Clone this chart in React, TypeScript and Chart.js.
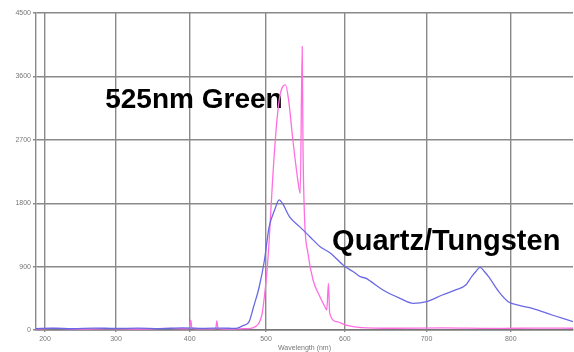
import { useEffect, useRef } from 'react';
import { Chart, LinearScale, registerables } from 'chart.js';

// ---- data ----
const quartzNm = [187, 210, 240, 270, 300, 330, 360, 390, 420, 445, 458, 465, 471, 478, 484, 491, 498, 504, 511, 517, 521, 530, 543, 556, 569, 582, 599, 610, 619, 623, 627, 632, 647, 668, 684, 700, 719, 735, 747, 754, 759, 764, 769, 774, 786, 797, 810, 825, 848, 872];
const quartzVal = [20, 25, 18, 28, 22, 26, 20, 30, 24, 28, 22, 35, 65, 115, 330, 600, 990, 1460, 1700, 1846, 1800, 1610, 1467, 1325, 1183, 1090, 909, 830, 757, 745, 730, 690, 568, 450, 379, 402, 497, 570, 639, 757, 830, 890, 830, 757, 544, 402, 350, 308, 213, 118];

const greenNm = [187, 215, 250, 290, 330, 370, 398, 400, 401.5, 403, 420, 434.5, 436, 437.5, 455, 470, 480, 486, 491, 495, 498, 501, 504, 508.5, 513, 517, 521.4, 525, 529, 534, 540.7, 543.8, 546.3, 547.3, 549.4, 553.6, 560, 568.7, 575, 577.3, 579.4, 581, 590, 601, 620, 660, 720, 780, 830, 872];
const greenVal = [15, 22, 12, 20, 14, 22, 18, 40, 140, 25, 15, 20, 130, 20, 14, 18, 22, 45, 100, 230, 480, 800, 1250, 2130, 2840, 3266, 3455, 3480, 3266, 2745, 2130, 1940, 4023, 2600, 1560, 1090, 710, 473, 330, 284, 663, 237, 118, 70, 35, 25, 30, 22, 28, 25];

const xTicks = [200, 300, 400, 500, 600, 700, 800];
const yTicks = [0, 900, 1800, 2700, 3600, 4500];

const labelTexts = ['525nm Green', 'Quartz/Tungsten'];
const labelNm = [285, 584];
const labelVal = [3147, 1136];

// spectrometer-like slightly non-linear wavelength axis
const WARP_K = 0.1155;
class WarpScale extends LinearScale {
  static id = 'warp';
  static defaults = LinearScale.defaults;
  getPixelForValue(value: any) {
    if (value === null || value === undefined) return NaN;
    const d = (value - this.min) / (this.max - this.min);
    const w = (1 - WARP_K) * d + WARP_K * d * d;
    return this.getPixelForDecimal(w);
  }
  getValueForPixel(pixel: number) {
    const w = this.getDecimalForPixel(pixel);
    const a = WARP_K, b = 1 - WARP_K;
    const d = (-b + Math.sqrt(b * b + 4 * a * w)) / (2 * a);
    return this.min + d * (this.max - this.min);
  }
}

Chart.register(...registerables, WarpScale as any);

const textPlugin = {
  id: 'bigLabels',
  beforeDatasetsDraw(chart: any) {
    const ctx = chart.ctx;
    const xs = chart.scales.x;
    const ys = chart.scales.y;
    ctx.save();
    ctx.fillStyle = '#000';
    ctx.textAlign = 'left';
    ctx.textBaseline = 'alphabetic';
    labelTexts.forEach((t, i) => {
      ctx.font = `bold ${i === 0 ? 28 : 29}px "Liberation Sans", Arial, sans-serif`;
      ctx.fillText(t, xs.getPixelForValue(labelNm[i]), ys.getPixelForValue(labelVal[i]));
    });
    ctx.restore();
  },
};

export default function App() {
  const ref = useRef<HTMLCanvasElement | null>(null);
  useEffect(() => {
    if (!ref.current) return;
    const chart = new Chart(ref.current, {
      type: 'line',
      data: {
        datasets: [
          {
            label: 'Quartz/Tungsten',
            data: quartzNm.map((x, i) => ({ x, y: quartzVal[i] })),
            borderColor: 'rgb(105,105,230)',
            borderWidth: 1.3,
            pointRadius: 0,
            fill: false,
            cubicInterpolationMode: 'monotone',
          },
          {
            label: '525nm Green',
            data: greenNm.map((x, i) => ({ x, y: greenVal[i] })),
            borderColor: 'rgb(255,110,225)',
            borderWidth: 1.3,
            pointRadius: 0,
            fill: false,
            cubicInterpolationMode: 'monotone',
          },
        ],
      },
      options: {
        responsive: false,
        animation: false,
        devicePixelRatio: 1,
        layout: { padding: { top: 13, right: 1, left: 0, bottom: 0 } },
        plugins: { legend: { display: false }, tooltip: { enabled: false } },
        scales: {
          x: {
            type: 'warp' as any,
            min: 187,
            max: 872,
            afterFit: (s: any) => { s.height = 22; },
            afterBuildTicks: (s: any) => { s.ticks = xTicks.map((v) => ({ value: v })); },
            ticks: {
              includeBounds: false,
              autoSkip: false,
              maxRotation: 0,
              padding: 3,
              color: '#777',
              callback: (v: any) => String(v),
              font: { family: '"Liberation Sans", Arial, sans-serif', size: 7 },
            },
            grid: { color: '#8a8a8a', lineWidth: 1.4, tickLength: 2 },
            border: { color: '#777', width: 1.5 },
            title: {
              display: true,
              text: 'Wavelength (nm)',
              color: '#777',
              padding: { top: 0, bottom: 0 },
              font: { family: '"Liberation Sans", Arial, sans-serif', size: 7 },
            },
          },
          y: {
            type: 'linear',
            min: 0,
            max: 4500,
            afterFit: (s: any) => { s.width = 36; },
            afterBuildTicks: (s: any) => { s.ticks = yTicks.map((v) => ({ value: v })); },
            ticks: {
              padding: 2,
              color: '#777',
              callback: (v: any) => String(v),
              font: { family: '"Liberation Sans", Arial, sans-serif', size: 7 },
            },
            grid: { color: '#8a8a8a', lineWidth: 1.4, tickLength: 3 },
            border: { color: '#8a8a8a', width: 1.4 },
          },
        },
      },
      plugins: [textPlugin],
    } as any);
    return () => chart.destroy();
  }, []);
  return (
    <div style={{ position: 'absolute', left: 0, top: 0, width: 574, height: 352, background: '#fff' }}>
      <canvas ref={ref} width={574} height={352} style={{ display: 'block' }} />
    </div>
  );
}
